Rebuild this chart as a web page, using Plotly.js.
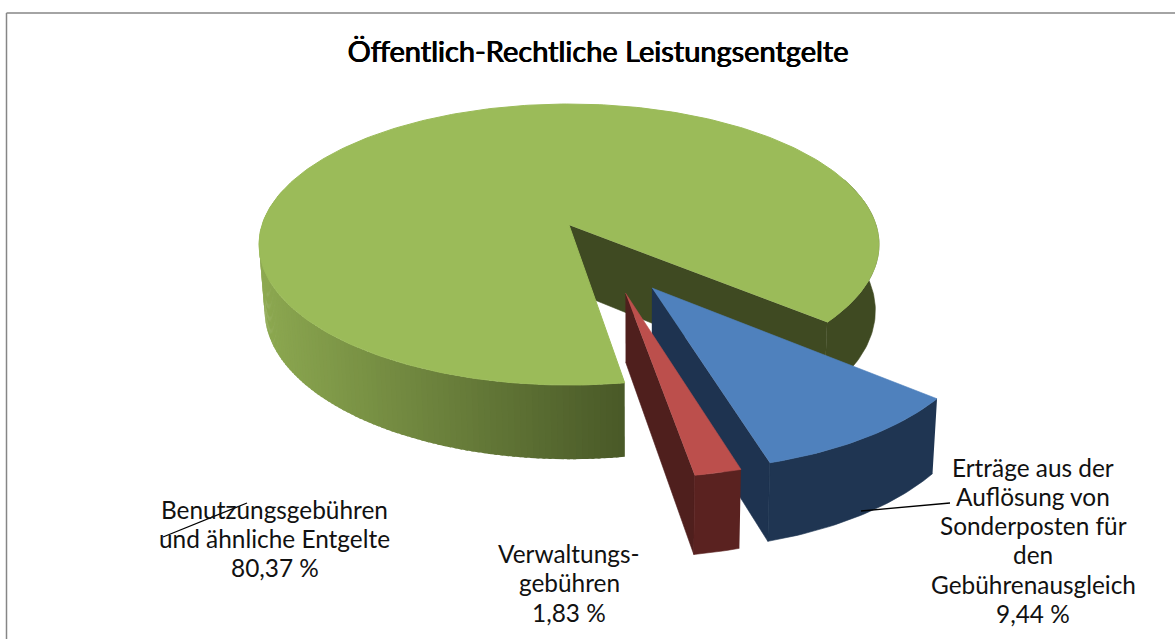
<!DOCTYPE html>
<html><head><meta charset="utf-8">
<script src="https://cdn.plot.ly/plotly-3.0.1.min.js"></script>
<style>html,body{margin:0;padding:0;background:#fff}#c{width:1175px;height:639px}</style>
</head><body><div id="c"></div>
<script>
// Data (clockwise: blue, red, green)
const categories = ["Erträge aus der<br>Auflösung von<br>Sonderposten für<br>den<br>Gebührenausgleich", "Verwaltungs-<br>gebühren", "Benutzungsgebühren<br>und ähnliche Entgelte"];
const values = [9.44, 1.83, 80.37];
const valueLabels = ["9,44 %", "1,83 %", "80,37 %"];
const chartTitle = "Öffentlich-Rechtliche Leistungsentgelte";

// Styles / projection
const topCol = ["#4f81bd", "#bc4f4c", "#9bbb59"];
const sideCol = ["#1f3552", "#5a2220", "#3f4a22"];
const cutCol = ["#1e3350", "#4f1f1d", "#3f4a22"];
const offset = [[0.254, -0.43], [0.172, -0.462], [0, 0]];
const startAngle = [130, 163.9, 171];
const angleScale = [0.92, 1, 1.0105];
const K = 0.139, CX = 569, CXB = 570, CY = 225, CYB = 290, A = 307, B = 137.8, SX = 0.985, SY = 1.057;
const rad = d => d * Math.PI / 180;
function proj(u, v, bottom) {
  const w = 1 + K * v, sx = bottom ? SX : 1, sy = bottom ? SY : 1;
  return [(bottom ? CXB : CX) + sx * A * u / w, (bottom ? CYB : CY) - sy * B * v / w];
}
const rim = (i, deg, bottom) => proj(offset[i][0] + Math.sin(rad(deg)), offset[i][1] + Math.cos(rad(deg)), bottom);
const apex = (i, bottom) => proj(offset[i][0], offset[i][1], bottom);
const total = values.reduce((a, b) => a + b, 0);
const spans = values.map((v, i) => v / total * 360 * angleScale[i]);

const traces = [];
function poly(pts, color, lw) {
  traces.push({type: "scatter", mode: "lines", x: pts.map(p => p[0]), y: pts.map(p => p[1]),
    fill: "toself", fillcolor: color, line: {color: color, width: lw === undefined ? 0.6 : lw}, hoverinfo: "skip", showlegend: false});
}
function arc(i, a0, a1, bottom) {
  const pts = [], n = Math.max(2, Math.ceil(Math.abs(a1 - a0)));
  for (let j = 0; j <= n; j++) pts.push(rim(i, a0 + (a1 - a0) * j / n, bottom));
  return pts;
}
function mix(t) {
  const c0 = [140, 168, 80], c1 = [74, 90, 40];
  return "rgb(" + c0.map((c, i) => Math.round(c + (c1[i] - c) * t)).join(",") + ")";
}
// green slice
const gs = startAngle[2], ge = gs + spans[2];
poly([apex(2, false), rim(2, ge, false), rim(2, ge, true), apex(2, true)], cutCol[2]);
poly(arc(2, ge, ge - 60, false).concat(arc(2, ge, ge - 60, true).reverse()), sideCol[2]);
const STEP = 1;
for (let d = gs; d < 285; d += STEP) {
  const x = rim(2, d, false)[0];
  const t = Math.min(1, Math.max(0, (x - 262) / (622 - 262)));
  poly(arc(2, d, d + STEP + 0.5, false).concat(arc(2, d, d + STEP + 0.5, true).reverse()), mix(t), 0);
}
poly([apex(2, false)].concat(arc(2, gs, ge, false)), topCol[2], 1);
// blue slice
const bs = startAngle[0], be = bs + spans[0];
poly([apex(0, false), rim(0, be, false), rim(0, be, true), apex(0, true)], cutCol[0]);
poly(arc(0, bs, be, false).concat(arc(0, bs, be, true).reverse()), sideCol[0]);
poly([apex(0, false)].concat(arc(0, bs, be, false)), topCol[0]);
// red slice
const rs = startAngle[1], re = rs + spans[1];
poly([apex(1, false), rim(1, re, false), rim(1, re, true), apex(1, true)], cutCol[1]);
poly(arc(1, rs, re, false).concat(arc(1, rs, re, true).reverse()), sideCol[1]);
poly([apex(1, false)].concat(arc(1, rs, re, false)), topCol[1]);

// leader lines
const leader = (xs, ys) => traces.push({type: "scatter", mode: "lines", x: xs, y: ys, line: {color: "#000", width: 1.3}, hoverinfo: "skip", showlegend: false});
leader([861, 950], [511, 503]);
leader([163, 247], [537, 503]);

const labelFont = {family: "Lato, Carlito, sans-serif", size: 24.4, color: "#111"};
const labelX = [1033, 569, 274.5], labelTop = [467, 553.5, 509], PITCH = 29.3;
const annotations = [];
categories.forEach((c, i) => {
  c.split("<br>").concat([valueLabels[i]]).forEach((line, j) => annotations.push({
    xref: "x", yref: "y", x: labelX[i], y: labelTop[i] + j * PITCH, text: line,
    showarrow: false, align: "center", xanchor: "center", yanchor: "middle", font: labelFont
  }));
});
const border = "#868686";
const layout = {
  width: 1175, height: 639, margin: {l: 0, r: 0, t: 0, b: 0},
  paper_bgcolor: "#fff", plot_bgcolor: "#fff", showlegend: false,
  title: {text: chartTitle, x: 598 / 1175, xanchor: "center", y: 1 - 52 / 639, yanchor: "middle",
    font: {family: "Lato, sans-serif", size: 29, color: "#000", weight: 400, shadow: "0.5px 0 0 #000, -0.4px 0 0 #000"}},
  xaxis: {range: [0, 1175], visible: false, fixedrange: true},
  yaxis: {range: [639, 0], visible: false, fixedrange: true},
  annotations: annotations,
  shapes: [
    {type: "line", xref: "x", yref: "y", x0: 6.5, x1: 1175, y0: 13, y1: 13, line: {color: border, width: 1.5}},
    {type: "line", xref: "x", yref: "y", x0: 6.5, x1: 6.5, y0: 13, y1: 639, line: {color: border, width: 1.5}}
  ]
};
Plotly.newPlot("c", traces, layout, {staticPlot: true, displayModeBar: false});
</script></body></html>
